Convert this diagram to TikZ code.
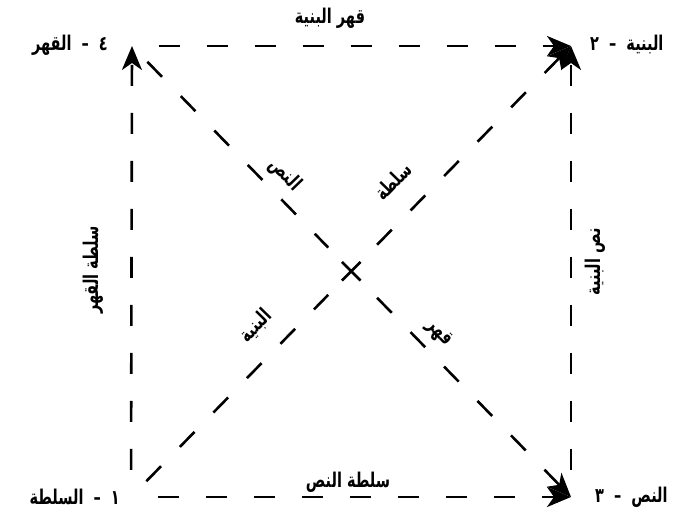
\documentclass[tikz,border=0pt]{standalone}
\usepackage{graphicx}
\usepackage{fontspec}
\newfontfamily\arabicfont[Script=Arabic]{DejaVu Sans}
\TeXXeTstate=1
\usetikzlibrary{arrows.meta,shapes.misc}
\newcommand{\artxt}[1]{\scalebox{1}[1.4]{\arabicfont\bfseries\beginR #1\endR}}

\begin{document}
\begin{tikzpicture}[x=1pt,y=1pt,
  dline/.style={line width=2.6pt, dash pattern=on 21pt off 27pt, dash phase=21pt},
  diag/.style={line width=2.6pt, dash pattern=on 21pt off 27pt, dash phase=26pt},
  tip/.style={-{Stealth[length=24pt,width=20pt,inset=7pt]}},
  lab/.style={inner sep=0pt, font=\fontsize{14.5}{17}\selectfont}]
\useasboundingbox (0,0) rectangle (693,513);

% corners of the square
\coordinate (c1) at (131,16);
\coordinate (c2) at (571,467);
\coordinate (c3) at (571,16);
\coordinate (c4) at (132,467);
\node[draw, cross out, minimum size=16pt, inner sep=0pt, line width=2.6pt]
  (ctr) at (intersection of c1--c2 and c4--c3) {};

% sides
\draw[dline,tip] (c1) -- (c4);
\draw[dline,tip] (c4) -- (c2);
\draw[dline,tip] (c3) -- (c2);
\draw[dline,tip] (c1) -- (c3);

% diagonals, broken at the centre
\draw[diag, shorten >=33pt] (c1) -- (ctr.center);
\draw[diag, dash phase=0pt, shorten <=37pt, tip] (ctr.center) -- (c2);
\draw[diag, shorten >=33pt] (c4) -- (ctr.center);
\draw[diag, dash phase=0pt, shorten <=37pt, tip] (ctr.center) -- (c3);

% corner names
\node[lab, anchor=east] (n4) at (108,468) {\artxt{٤ \ – \ القهر}};
\node[lab, anchor=west] (n2) at (590,468) {\artxt{البنية \ – \ ٢}};
\node[lab, anchor=west] (n3) at (595,16) {\artxt{النص \ – \ ٣}};
\node[lab, anchor=east] (n1) at (120,16) {\artxt{١ \ – \ السلطة}};

% side labels
\node[lab] (ltop) at (330,495) {\artxt{قهر البنية}};
\node[lab] (lbot) at (348,31) {\artxt{سلطة النص}};
\node[lab, rotate=90] (lleft) at (93,243) {\artxt{سلطة القهر}};
\node[lab, rotate=90] (lright) at (595,251) {\artxt{نص البنية}};

% diagonal labels
\node[lab, rotate=-45.8] (d43a) at (285,338) {\artxt{النص}};
\node[lab, rotate=-45.8] (d43b) at (439,180) {\artxt{قهر}};
\node[lab, rotate=45.7] (d12a) at (393,332) {\artxt{سلطة}};
\node[lab, rotate=45.7] (d12b) at (256,187) {\artxt{البنية}};
\end{tikzpicture}
\end{document}
